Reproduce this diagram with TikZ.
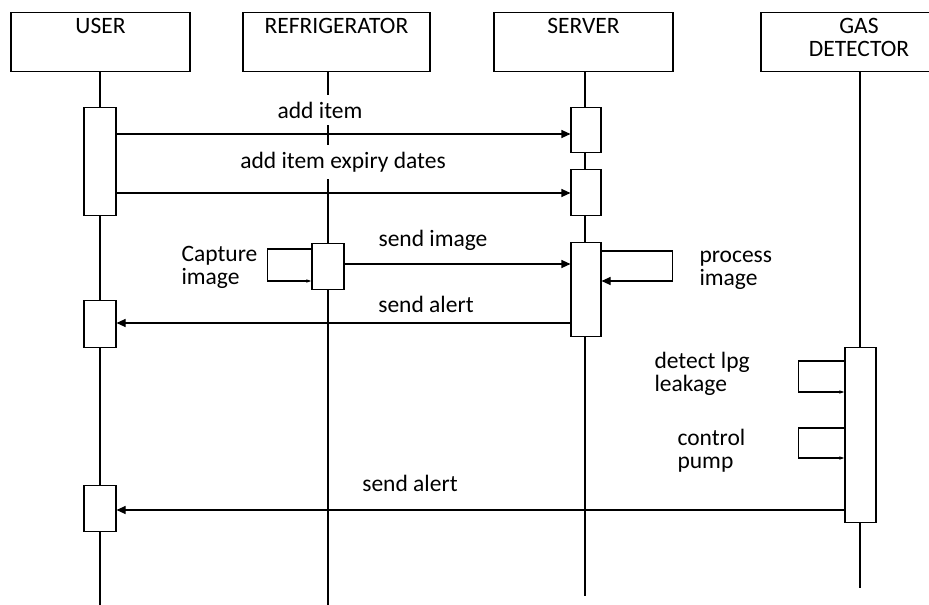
\documentclass[tikz,border=0pt]{standalone}
\usepackage{fontspec}
\setmainfont{Carlito}
\usepackage{tikz}
\usetikzlibrary{arrows.meta}

\begin{document}
\begin{tikzpicture}[x=1pt,y=-1pt,>={Triangle[length=9pt,width=8pt]},line width=1.1pt,
	font=\fontsize{23.5}{23}\selectfont]
	\tikzstyle{head}=[draw,rectangle,minimum width=179pt,minimum height=59pt,anchor=north]
	\tikzstyle{act}=[draw,rectangle,fill=white,minimum width=32pt,anchor=north,inner sep=0pt]
	\tikzstyle{msg}=[->]
	\tikzstyle{self}=[-{Triangle[length=5pt,width=3pt]}]
	\tikzstyle{txt}=[inner sep=0pt,align=left]
	\tikzstyle{msgtxt}=[fill=white,inner xsep=2pt,inner ysep=7pt]

	\useasboundingbox (0,0) rectangle (929,605);

	% heads
	\node[head,label={[anchor=north,inner sep=6pt]north:USER}]          (user)   at (100.5,12) {};
	\node[head,minimum width=187pt,
	      label={[anchor=north,inner sep=6pt]north:REFRIGERATOR}]       (fridge) at (336.5,12) {};
	\node[head,label={[anchor=north,inner sep=6pt]north:SERVER}]        (server) at (583.5,12) {};
	\node[head,minimum width=196pt,
	      label={[anchor=north,align=center,inner sep=6pt]north:{GAS\\DETECTOR}}] (gas) at (859,12) {};

	% lifelines
	\coordinate (userEnd)   at (100,606);
	\coordinate (fridgeEnd) at (328,606);
	\coordinate (serverEnd) at (585,596);
	\coordinate (gasEnd)    at (860,588);
	\draw (user.south -| userEnd) -- (userEnd);
	\draw (fridge.south -| fridgeEnd) -- (fridgeEnd);
	\draw (server.south -| serverEnd) -- (serverEnd);
	\draw (gas.south -| gasEnd) -- (gasEnd);

	% activations
	\node[act,minimum height=108pt] (u1) at (100,107) {};
	\node[act,minimum height=47pt]  (u2) at (100,300) {};
	\node[act,minimum height=46pt]  (u3) at (100,485) {};
	\node[act,minimum height=46pt]  (f1) at (328,243) {};
	\node[act,minimum height=45pt,minimum width=30pt] (s1) at (586,107) {};
	\node[act,minimum height=46pt,minimum width=30pt] (s2) at (586,169) {};
	\node[act,minimum height=94pt,minimum width=30pt] (s3) at (586,242) {};
	\node[act,minimum height=175pt,minimum width=31pt] (g1) at (860.5,347) {};

	% message rows
	\coordinate (rAdd)    at (0,134);
	\coordinate (rExpiry) at (0,193);
	\coordinate (rImage)  at (0,264);
	\coordinate (rAlert)  at (0,323);
	\coordinate (rGas)    at (0,510);

	\draw[msg] (u1.east |- rAdd) -- (s1.west |- rAdd);
	\draw[msg] (u1.east |- rExpiry) -- (s2.west |- rExpiry);
	\draw[msg] (f1.east |- rImage) -- (s3.west |- rImage);
	\draw[msg] (s3.west |- rAlert) -- (u2.east |- rAlert);
	\draw[msg] (g1.west |- rGas) -- (u3.east |- rGas);

	% self calls
	\draw[self] ([yshift=-6pt]f1.north west) -- ++(-44pt,0) |- ([yshift=-38pt]f1.north west);
	\draw[msg]  ([yshift=-9pt]s3.north east) -- ++(71pt,0) |- ([yshift=-39pt]s3.north east);
	\draw[self] ([yshift=-14pt]g1.north west) -- ++(-46pt,0) |- ([yshift=-45pt]g1.north west);
	\draw[self] ([yshift=-81pt]g1.north west) -- ++(-46pt,0) |- ([yshift=-111pt]g1.north west);

	% labels
	\node[txt,msgtxt] (addLbl)     at (320,110) {add item};
	\node[txt,msgtxt] (expiryLbl)  at (343,162) {add item expiry dates};
	\node[txt] (imageLbl)   at (433,240) {send image};
	\node[txt] (alertLbl)   at (426,304) {send alert};
	\node[txt] (gasAlertLbl) at (410,483) {send alert};
	\node[txt,anchor=west] (captureLbl) at (181,267) {Capture\\image};
	\node[txt,anchor=west] (processLbl) at (699,270) {process\\image};
	\node[txt,anchor=west] (detectLbl)  at (654,374) {detect lpg\\leakage};
	\node[txt,anchor=west] (pumpLbl)    at (677,451) {control\\pump};
\end{tikzpicture}
\end{document}
